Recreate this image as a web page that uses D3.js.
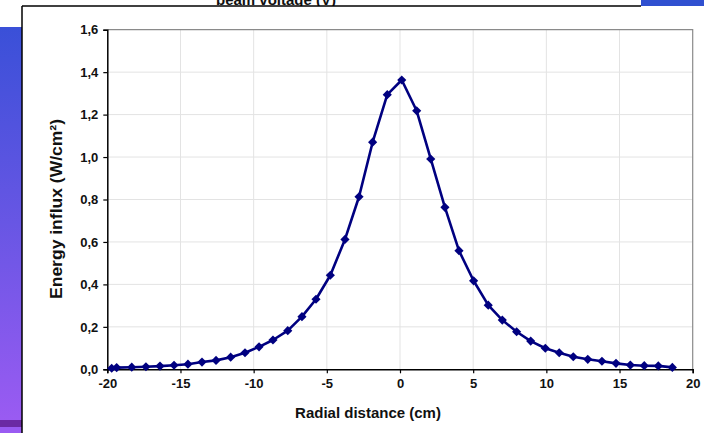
<!DOCTYPE html>
<html>
<head>
<meta charset="utf-8">
<script src="https://cdn.jsdelivr.net/npm/d3@7"></script>
<style>
  html, body { margin: 0; padding: 0; background: #ffffff; }
  svg { display: block; }
  text { font-family: "Liberation Sans", Arial, sans-serif; font-weight: bold; fill: #111; }
</style>
</head>
<body>
<svg id="chart" width="704" height="433"></svg>
<script>
const radialDistance = [-19.70, -19.36, -18.33, -17.36, -16.40, -15.44, -14.49, -13.53, -12.57, -11.57,
  -10.59, -9.63, -8.68, -7.67, -6.70, -5.74, -4.76, -3.76, -2.80, -1.87, -0.87, 0.12, 1.14, 2.10,
  3.07, 4.03, 5.03, 6.03, 6.99, 7.97, 8.93, 9.93, 10.88, 11.84, 12.83, 13.80, 14.76, 15.74, 16.69, 17.65, 18.61];
const energyInflux = [0.005, 0.008, 0.010, 0.012, 0.015, 0.019, 0.024, 0.034, 0.042, 0.057,
  0.078, 0.106, 0.138, 0.182, 0.248, 0.330, 0.443, 0.612, 0.813, 1.070, 1.294, 1.363, 1.218, 0.991,
  0.763, 0.559, 0.417, 0.302, 0.232, 0.177, 0.133, 0.099, 0.078, 0.059, 0.047, 0.038, 0.028, 0.020, 0.017, 0.016, 0.009];
const xTicks = [-20, -15, -10, -5, 0, 5, 10, 15, 20];
const yTicks = [0, 0.2, 0.4, 0.6, 0.8, 1.0, 1.2, 1.4, 1.6];
const xTitle = "Radial distance (cm)";
const yTitle = "Energy influx (W/cm²)";
const topTitle = "beam voltage (V)";

const data = radialDistance.map((d, i) => ({x: d, y: energyInflux[i]}));
const svg = d3.select("#chart");

// background: slide-like left strip gradient
const defs = svg.append("defs");
const grad = defs.append("linearGradient").attr("id", "bg").attr("x1", 0).attr("y1", 0).attr("x2", 0).attr("y2", 1);
grad.append("stop").attr("offset", "0%").attr("stop-color", "#3a50d8");
grad.append("stop").attr("offset", "50%").attr("stop-color", "#6856e4");
grad.append("stop").attr("offset", "100%").attr("stop-color", "#9a5bf2");
svg.append("rect").attr("x", 0).attr("y", 27).attr("width", 22).attr("height", 393).attr("fill", "url(#bg)");
svg.append("rect").attr("x", 0).attr("y", 420).attr("width", 22).attr("height", 7).attr("fill", "#6b2aa3");
svg.append("rect").attr("x", 0).attr("y", 427).attr("width", 22).attr("height", 6).attr("fill", "#9a5bf2");
svg.append("rect").attr("x", 641).attr("y", 0).attr("width", 63).attr("height", 6).attr("fill", "#3050d0");

// top cut title
svg.append("text").attr("x", 276).attr("y", 5).attr("text-anchor", "middle")
  .style("font-size", "15px").text(topTitle);

// white panel with black border on top and left
svg.append("rect").attr("x", 22).attr("y", 6).attr("width", 682).attr("height", 427).attr("fill", "#ffffff");
svg.append("line").attr("x1", 22).attr("y1", 6).attr("x2", 641).attr("y2", 6).attr("stroke", "#000").attr("stroke-width", 1.5);
svg.append("line").attr("x1", 22).attr("y1", 6).attr("x2", 22).attr("y2", 433).attr("stroke", "#000").attr("stroke-width", 1.5);

const x = d3.scaleLinear().domain([-20, 20]).range([107.3, 692.7]);
const y = d3.scaleLinear().domain([0, 1.6]).range([369.3, 29.7]);

// grid
const g = svg.append("g");
g.selectAll(".vg").data(xTicks.slice(1, -1)).join("line")
  .attr("x1", d => x(d)).attr("x2", d => x(d)).attr("y1", y(0)).attr("y2", y(1.6))
  .attr("stroke", "#e3e3e3").attr("stroke-width", 1);
g.selectAll(".hg").data(yTicks.slice(1, -1)).join("line")
  .attr("x1", x(-20)).attr("x2", x(20)).attr("y1", d => y(d)).attr("y2", d => y(d))
  .attr("stroke", "#e3e3e3").attr("stroke-width", 1);
// plot border top/right
g.append("path").attr("d", `M${x(-20)},${y(1.6)}H${x(20)}V${y(0)}`)
  .attr("fill", "none").attr("stroke", "#8a8a8a").attr("stroke-width", 1.2);

// axes
const fmt = d3.format(".1f");
const yAxis = svg.append("g").attr("transform", `translate(${x(-20)},0)`)
  .call(d3.axisLeft(y).tickValues(yTicks).tickSize(4).tickPadding(5).tickFormat(d => fmt(d).replace(".", ",")));
const xAxis = svg.append("g").attr("transform", `translate(0,${y(0)})`)
  .call(d3.axisBottom(x).tickValues(xTicks).tickSize(4).tickPadding(5).tickFormat(d3.format("d")));
[xAxis, yAxis].forEach(a => {
  a.select(".domain").attr("stroke", "#000").attr("stroke-width", 1.5);
  a.selectAll(".tick line").attr("stroke", "#000").attr("stroke-width", 1.2);
  a.selectAll(".tick text").style("font-size", "13px").style("font-weight", "bold")
    .style("font-family", "'Liberation Sans', Arial, sans-serif").attr("fill", "#111");
});
xAxis.selectAll(".tick text").text(d => d < 0 ? "-" + Math.abs(d) : d);

// titles
svg.append("text").attr("x", 368).attr("y", 418).attr("text-anchor", "middle")
  .style("font-size", "15px").text(xTitle);
svg.append("text").attr("transform", `translate(62,209) rotate(-90)`)
  .attr("text-anchor", "middle").style("font-size", "16px")
  .attr("textLength", 180).attr("lengthAdjust", "spacingAndGlyphs").text(yTitle);

// line + markers
const line = d3.line().x(d => x(d.x)).y(d => y(d.y));
svg.append("path").datum(data).attr("d", line)
  .attr("fill", "none").attr("stroke", "#000080").attr("stroke-width", 2.6).attr("stroke-linejoin", "round");
svg.selectAll(".pt").data(data).join("path")
  .attr("d", d3.symbol().type(d3.symbolSquare).size(42))
  .attr("transform", d => `translate(${x(d.x)},${y(d.y)}) rotate(45)`)
  .attr("fill", "#000080");
</script>
</body>
</html>
